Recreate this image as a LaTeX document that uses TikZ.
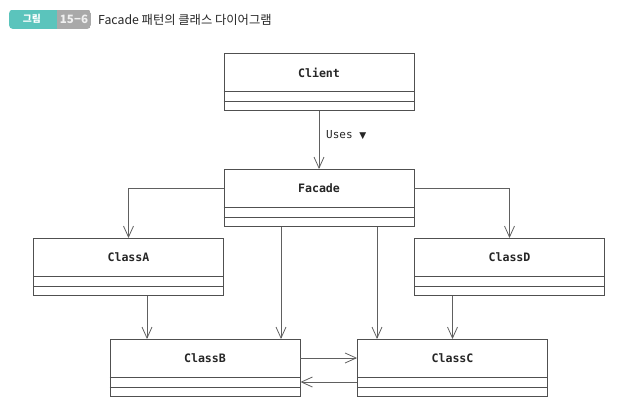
\documentclass[tikz,border=0pt]{standalone}
\usepackage{fontspec}
\setmainfont{DejaVu Sans}
\newfontfamily\monof{DejaVu Sans Mono}
\newfontfamily\krf{Noto Sans CJK KR}
\newfontfamily\symf{DejaVu Sans}
\usetikzlibrary{arrows.meta}
\definecolor{badgeteal}{HTML}{5BC4BC}
\definecolor{badgegray}{HTML}{A9A9A9}
\definecolor{boxline}{HTML}{505050}
\definecolor{connline}{HTML}{606060}
\tikzset{
  classbox/.style={draw=boxline, line width=0.9pt, minimum width=190pt, minimum height=57pt, inner sep=0pt, anchor=north},
  classname/.style={font=\monof\bfseries\fontsize{11.6}{13}\selectfont, text=black!85, inner sep=0pt},
  sepline/.style={draw=boxline, line width=0.9pt},
  conn/.style={draw=connline, line width=0.8pt, -{Straight Barb[length=11pt,width=10pt,line width=0.8pt]}},
  badgetext/.style={text=white, font=\krf\bfseries\fontsize{9.8}{12}\selectfont, inner sep=0pt},
  badgenum/.style={text=white!88!gray, font=\krf\bfseries\fontsize{11.5}{13}\selectfont, inner sep=0pt},
  titletext/.style={text=black!85, font=\krf\fontsize{12.3}{14}\selectfont, inner sep=0pt, anchor=west},
  labeltext/.style={font=\monof\fontsize{11}{13}\selectfont, text=black!85, inner sep=0pt, anchor=west}
}
\newcommand\umlclass[4]{%
  \node[classbox] (#1) at (#2,#3) {};
  \node[classname] (#1name) at ([yshift=-19.5pt]#1.north) {#4};
  \draw[sepline] ([yshift=19pt]#1.south west) -- ([yshift=19pt]#1.south east);
  \draw[sepline] ([yshift=9.5pt]#1.south west) -- ([yshift=9.5pt]#1.south east);
}
\begin{document}
\begin{tikzpicture}[x=1pt,y=-1pt]
\useasboundingbox (0,0) rectangle (632,410);
% badge
\begin{scope}
  \clip[rounded corners=4pt] (9,9.5) rectangle (91,29);
  \fill[badgeteal] (9,9.5) rectangle (57,29);
  \fill[badgegray] (57,9.5) rectangle (91,29);
\end{scope}
\node[badgetext] (badgea) at (32,19.25) {그림};
\node[badgenum] (badgeb) at (74,19.25) {15−6};
\node[titletext] (title) at (98,19.5) {Facade 패턴의 클래스 다이어그램};
% classes
\umlclass{client}{319}{53}{Client}
\umlclass{facade}{319}{169}{Facade}
\umlclass{classa}{128.5}{238}{ClassA}
\umlclass{classd}{509.5}{238}{ClassD}
\umlclass{classb}{205}{339}{ClassB}
\umlclass{classc}{452.5}{339}{ClassC}
% connectors
\draw[conn] (client.south) -- (facade.north);
\node[labeltext] (uses) at (326,135) {Uses {\symf\fontsize{9}{10}\selectfont ▼}};
\draw[conn] ([yshift=-19pt]facade.north west) -| (classa.north);
\draw[conn] ([yshift=-19pt]facade.north east) -| (classd.north);
\draw[conn] ([xshift=-38pt]facade.south) -- ([xshift=-38pt]facade.south |- classb.north);
\draw[conn] ([xshift=58pt]facade.south) -- ([xshift=58pt]facade.south |- classc.north);
\draw[conn] ([xshift=18.5pt]classa.south) -- ([xshift=18.5pt]classa.south |- classb.north);
\draw[conn] (classd.south -| classc.north) -- (classc.north);
\draw[conn] ([yshift=-19pt]classb.north east) -- ([yshift=-19pt]classc.north west);
\draw[conn] ([yshift=-43pt]classc.north west) -- ([yshift=-43pt]classb.north east);
\end{tikzpicture}
\end{document}
